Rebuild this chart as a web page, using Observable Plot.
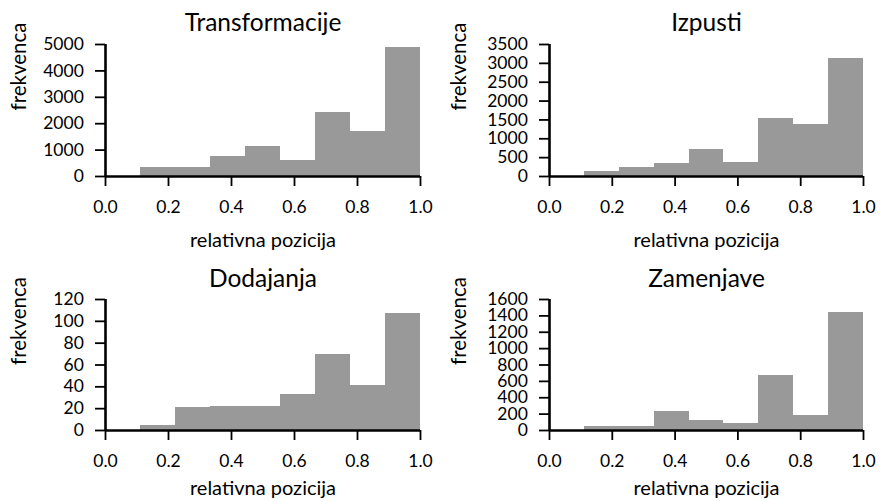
<!DOCTYPE html>
<html>
<head>
<meta charset="utf-8">
<script src="https://cdn.jsdelivr.net/npm/d3@7"></script>
<script src="https://cdn.jsdelivr.net/npm/@observablehq/plot@0.6"></script>
<style>
  html, body { margin: 0; padding: 0; background: #fff; }
  #chart { position: relative; width: 880px; height: 501px; overflow: hidden; }
  #chart > div { position: absolute; }
  svg { display: block; }
</style>
</head>
<body>
<div id="chart"></div>
<script>
// Histogram bins (relative position)
const binStart = [0.0000, 0.1111, 0.2222, 0.3333, 0.4444, 0.5556, 0.6667, 0.7778, 0.8889];
const binEnd   = [0.1111, 0.2222, 0.3333, 0.4444, 0.5556, 0.6667, 0.7778, 0.8889, 1.0000];

// Frequencies per bin
const transformacije = [0, 340, 340, 760, 1140, 610, 2420, 1710, 4890];
const izpusti        = [0, 133, 240, 345, 716, 370, 1540, 1380, 3130];
const dodajanja      = [0, 5, 21, 22, 22, 33, 70, 41, 107];
const zamenjave      = [0, 49, 49, 232, 122, 86, 672, 183, 1441];

// Panel titles and axis labels
const titles = ["Transformacije", "Izpusti", "Dodajanja", "Zamenjave"];
const xLabel = "relativna pozicija";
const yLabel = "frekvenca";

// Tick values
const xTicks = [0, 0.2, 0.4, 0.6, 0.8, 1.0];
const yTicksTransformacije = [0, 1000, 2000, 3000, 4000, 5000];
const yTicksIzpusti = [0, 500, 1000, 1500, 2000, 2500, 3000, 3500];
const yTicksDodajanja = [0, 20, 40, 60, 80, 100, 120];
const yTicksZamenjave = [0, 200, 400, 600, 800, 1000, 1200, 1400, 1600];

const FONT = "Lato, 'Open Sans', sans-serif";

function panel(title, values, yTicks, opts) {
  const data = values.map((v, i) => ({x1: binStart[i], x2: binEnd[i], v}));
  const yMax = yTicks[yTicks.length - 1];
  return Plot.plot({
    width: 440,
    height: opts.height,
    marginLeft: opts.mL,
    marginRight: opts.mR,
    marginTop: opts.mT,
    marginBottom: opts.mB,
    style: {fontFamily: FONT, fontSize: "17.5px", color: "black", background: "white", overflow: "visible"},
    x: {domain: [0, 1]},
    y: {domain: [0, yMax]},
    marks: [
      Plot.rect(data, {x1: "x1", x2: "x2", y1: 0, y2: "v", fill: "#999999", inset: 0, shapeRendering: "crispEdges"}),
      Plot.axisX({ticks: xTicks, tickFormat: d3.format(".1f"), tickSize: 10, tickPadding: 13.6, label: null, strokeWidth: 1.8}),
      Plot.axisY({ticks: yTicks, tickFormat: d => String(d), tickSize: 10, tickPadding: 11.7, label: null, strokeWidth: 1.8}),
      Plot.ruleY([0], {strokeWidth: 2.6, stroke: "black"}),
      Plot.ruleX([0], {strokeWidth: 2.6, stroke: "black"}),
      Plot.text([title], {text: d => d, frameAnchor: "top", dy: opts.titleDy, fontSize: 24.5, lineAnchor: "middle"}),
      Plot.text([yLabel], {text: d => d, frameAnchor: "left", dx: opts.yLabelDx, rotate: -90, fontSize: 20.5, lineAnchor: "middle"}),
      Plot.text([xLabel], {text: d => d, frameAnchor: "bottom", dy: opts.xLabelDy, fontSize: 20, lineAnchor: "middle"})
    ]
  });
}

const panels = [
  {title: titles[0], values: transformacije, ticks: yTicksTransformacije, left: 0,   top: 0,   opts: {height: 250, mL: 105, mR: 20, mT: 44, mB: 74, titleDy: -21, yLabelDx: -86, xLabelDy: 64}},
  {title: titles[1], values: izpusti,        ticks: yTicksIzpusti,        left: 440, top: 0,   opts: {height: 250, mL: 109, mR: 17, mT: 44, mB: 74, titleDy: -21, yLabelDx: -90, xLabelDy: 64}},
  {title: titles[2], values: dodajanja,      ticks: yTicksDodajanja,      left: 0,   top: 250, opts: {height: 251, mL: 105, mR: 20, mT: 49, mB: 71, titleDy: -20, yLabelDx: -86, xLabelDy: 58}},
  {title: titles[3], values: zamenjave,      ticks: yTicksZamenjave,      left: 440, top: 250, opts: {height: 251, mL: 109, mR: 17, mT: 49, mB: 71, titleDy: -20, yLabelDx: -90, xLabelDy: 58}}
];

const root = document.getElementById("chart");
for (const p of panels) {
  const wrap = document.createElement("div");
  wrap.style.left = p.left + "px";
  wrap.style.top = p.top + "px";
  wrap.appendChild(panel(p.title, p.values, p.ticks, p.opts));
  root.appendChild(wrap);
}
</script>
</body>
</html>
